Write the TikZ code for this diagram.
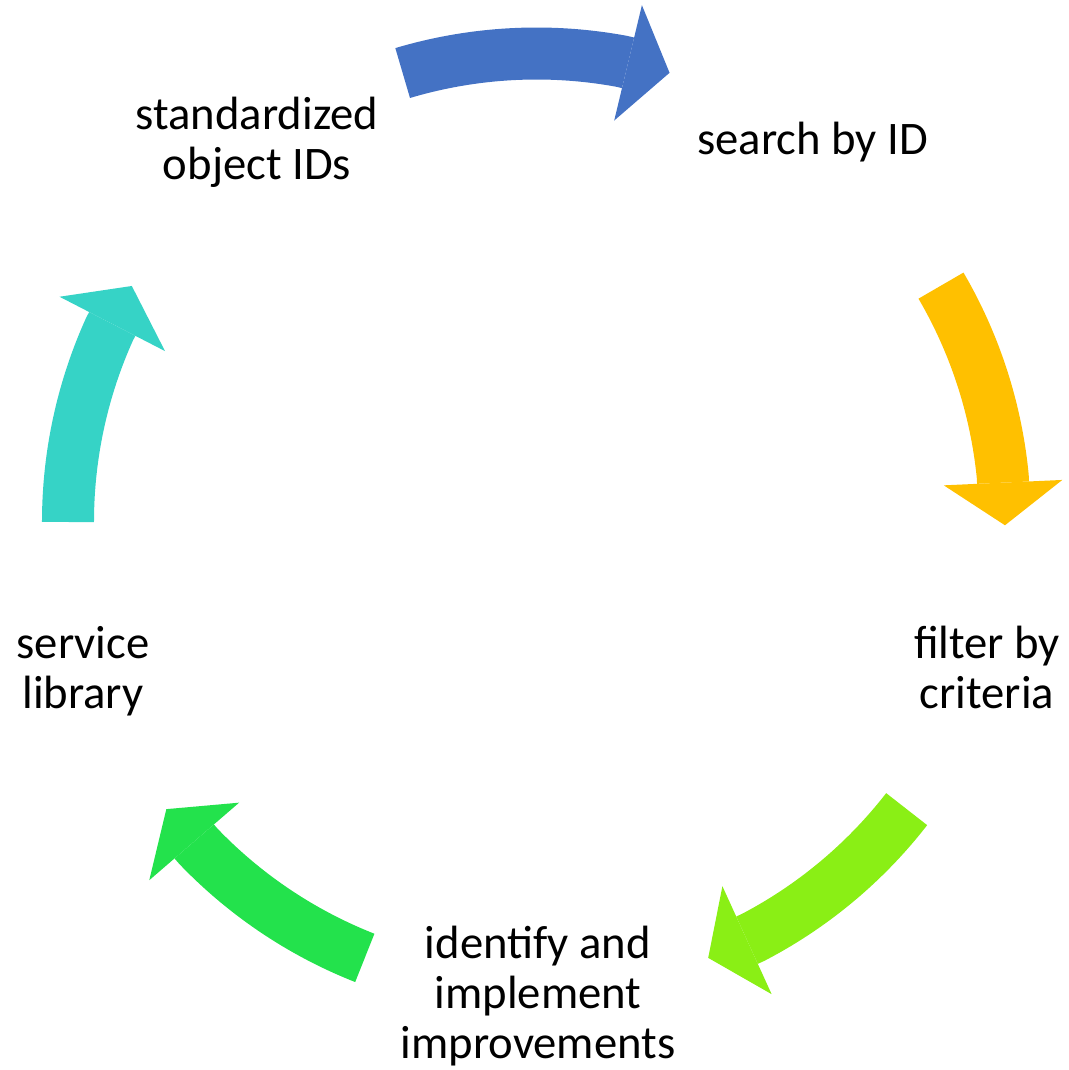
\documentclass[tikz,border=0pt]{standalone}
\usepackage{fontspec}
\setmainfont{Carlito}
\usepackage{tikz}
\usetikzlibrary{arrows.meta}
\usetikzlibrary{positioning}

\definecolor{cycblue}{HTML}{4472C4}
\definecolor{cycyellow}{HTML}{FFC000}
\definecolor{cyclime}{HTML}{8AEF15}
\definecolor{cycgreen}{HTML}{23E24C}
\definecolor{cycteal}{HTML}{36D3C6}

\begin{document}
\begin{tikzpicture}[x=0.75pt, y=0.75pt,
    steptext/.style={align=center, font=\fontsize{35}{37.5}\selectfont},
    cyc/.style={line width=39pt, -{Triangle[length=32pt, width=89pt, line width=0pt]}}]
    \useasboundingbox (-536.5,-548) rectangle (532.5,522);
    % the five steps
    \node[steptext] (std) at (-279.5,380) {standardized\\object IDs};
    \node[steptext] (search) at (276,379.5) {search by ID};
    \node[steptext] (filter) at (450.5,-145.7) {filter by\\criteria};
    \node[steptext] (improve) at (1.5,-474.4) {identify and\\implement\\improvements};
    \node[steptext] (lib) at (-453.5,-149) {service\\library};
    % arrows round the circle: tail, then tip
    \coordinate (s1) at (106.6:468.5);
    \coordinate (e1) at (73.5:468.5);
    \coordinate (s2) at (30.3:468.5);
    \coordinate (e2) at (-0.4:468.5);
    \coordinate (s3) at (-37.8:468.5);
    \coordinate (e3) at (-68.5:468.5);
    \coordinate (s4) at (-111.5:468.5);
    \coordinate (e4) at (-142.2:468.5);
    \coordinate (s5) at (180:468.5);
    \coordinate (e5) at (149.75:468.5);
    \draw[cyc, cycblue] (s1) arc[start angle=106.6, end angle=79.5, radius=468.5] -- (e1);
    \draw[cyc, cycyellow] (s2) arc[start angle=30.3, end angle=5.6, radius=468.5] -- (e2);
    \draw[cyc, cyclime] (s3) arc[start angle=-37.8, end angle=-62.5, radius=468.5] -- (e3);
    \draw[cyc, cycgreen] (s4) arc[start angle=-111.5, end angle=-136.2, radius=468.5] -- (e4);
    \draw[cyc, cycteal] (s5) arc[start angle=180, end angle=155.75, radius=468.5] -- (e5);
\end{tikzpicture}
\end{document}
